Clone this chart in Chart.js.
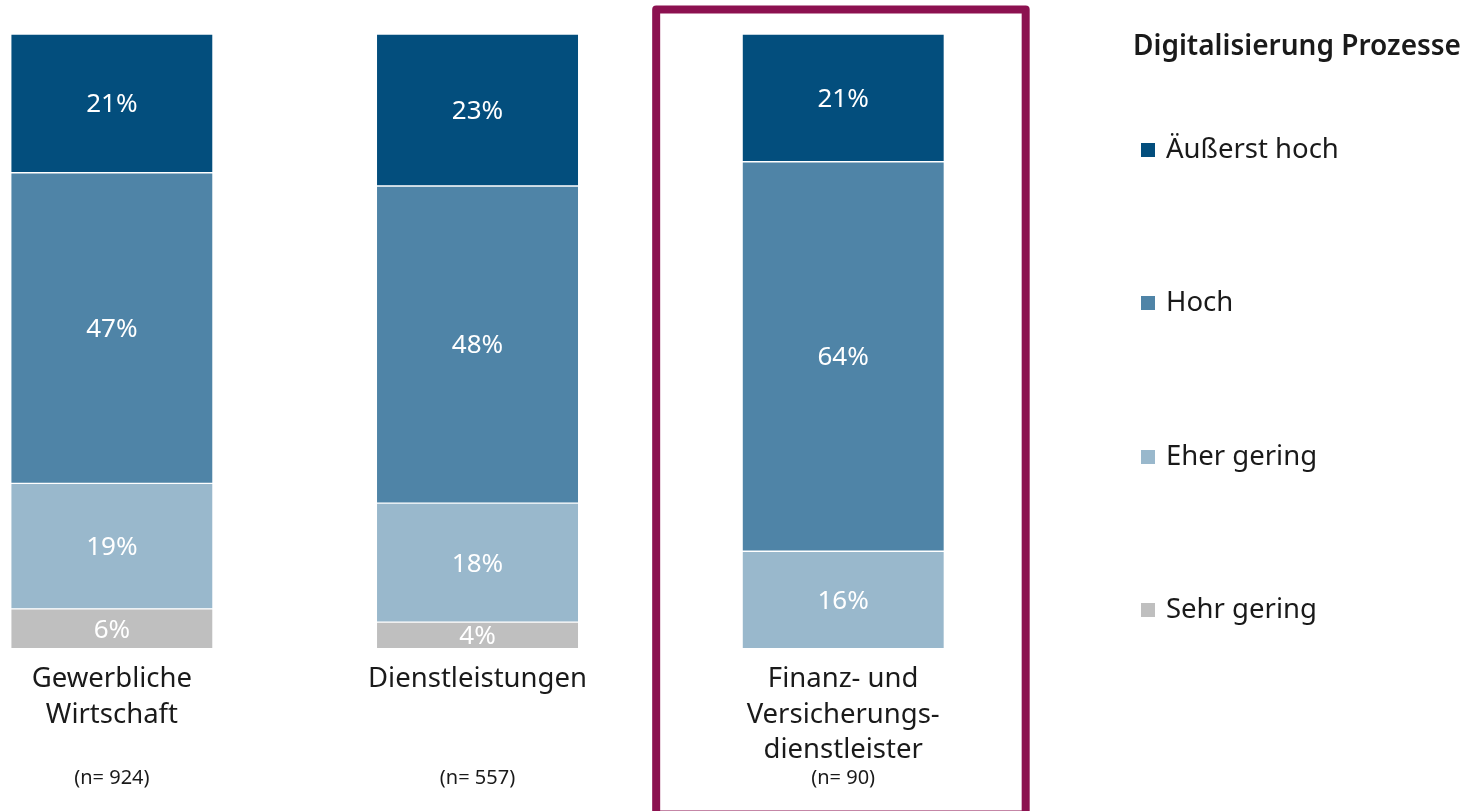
<!DOCTYPE html>
<html><head><meta charset="utf-8">
<script src="https://cdn.jsdelivr.net/npm/chart.js@4.4.1/dist/chart.umd.min.js"></script>
<style>html,body{margin:0;padding:0;background:#fff;overflow:hidden}#wrap{position:relative;width:1469px;height:811px}</style>
</head><body><div id="wrap"><canvas id="c" width="1469" height="811"></canvas></div>
<script>
// ---- data ----
const categories = [["Gewerbliche","Wirtschaft"],["Dienstleistungen"],["Finanz- und","Versicherungs-","dienstleister"]];
const sampleSizes = ["(n= 924)","(n= 557)","(n= 90)"];
const seriesNames = ["Äußerst hoch","Hoch","Eher gering","Sehr gering"];
const aeusserstHoch = [21, 23, 21];
const hoch = [47, 48, 64];
const eherGering = [19, 18, 16];
const sehrGering = [6, 4, null];
const highlightIndex = 2;
const legendTitle = "Digitalisierung Prozesse";

// ---- styles ----
const seriesColors = ["#034E7D", "#4F84A7", "#99B8CC", "#BFBFBF"];
const FONT = "'Noto Sans', sans-serif";
const TEXT = "#1a1a1a";
Chart.defaults.font.family = FONT;

const allSeries = [aeusserstHoch, hoch, eherGering, sehrGering];
const totals = categories.map((_, i) => allSeries.reduce((s, a) => s + (a[i] || 0), 0));

function makeDataset(k) {
  const values = allSeries[k];
  return {
    label: seriesNames[k],
    values: values,
    data: values.map((v, i) => v == null ? null : { x: i, y: v / totals[i] * 100 }).filter(p => p),
    backgroundColor: seriesColors[k],
    borderColor: "#ffffff",
    borderWidth: { top: 1, bottom: 1, left: 0, right: 0 },
    borderSkipped: false,
    barThickness: 201
  };
}
// bottom of stack first
const datasets = [3, 2, 1, 0].map(makeDataset);

const overlay = {
  id: "overlay",
  afterDatasetsDraw(chart) {
    const ctx = chart.ctx;
    ctx.save();
    ctx.font = "26px " + FONT;
    ctx.fillStyle = "#ffffff";
    ctx.textAlign = "center";
    ctx.textBaseline = "middle";
    chart.data.datasets.forEach((d, di) => {
      const meta = chart.getDatasetMeta(di);
      meta.data.forEach((el, j) => {
        const ci = d.data[j].x;
        const v = d.values[ci];
        ctx.fillText(v + "%", el.x, (el.y + el.base) / 2 + 1.5);
      });
    });
    ctx.restore();
  },
  afterDraw(chart) {
    const ctx = chart.ctx;
    const xs = chart.scales.x;
    ctx.save();
    // sample sizes
    ctx.font = "20px " + FONT;
    ctx.fillStyle = TEXT;
    ctx.textAlign = "center";
    ctx.textBaseline = "middle";
    sampleSizes.forEach((s, i) => ctx.fillText(s, xs.getPixelForValue(i), 778));
    // highlight frame
    const cx = xs.getPixelForValue(highlightIndex);
    ctx.strokeStyle = "#8C1150";
    ctx.lineWidth = 8;
    ctx.lineJoin = "round";
    ctx.strokeRect(cx - 187, 9.5, 369.5, 805);
    // legend
    ctx.textAlign = "left";
    ctx.font = "600 28px " + FONT;
    ctx.fillStyle = TEXT;
    ctx.fillText(legendTitle, 1133, 47);
    ctx.font = "27.5px " + FONT;
    const ys = [150, 303, 457, 610];
    seriesNames.forEach((name, k) => {
      ctx.fillStyle = seriesColors[k];
      ctx.fillRect(1141, ys[k] - 7, 14, 14);
      ctx.fillStyle = TEXT;
      ctx.fillText(name, 1166, ys[k]);
    });
    ctx.restore();
  }
};

new Chart(document.getElementById("c"), {
  type: "bar",
  data: { datasets: datasets },
  options: {
    responsive: false,
    animation: false,
    layout: { padding: { left: 0, right: 443, top: 34, bottom: 30 } },
    plugins: { legend: { display: false }, tooltip: { enabled: false } },
    scales: {
      x: {
        type: "linear", stacked: true, offset: false, bounds: "data",
        min: -0.306, max: 2.5,
        grid: { display: false, drawTicks: false, offset: false },
        border: { display: false },
        afterBuildTicks: s => { s.ticks = categories.map((_, i) => ({ value: i })); },
        ticks: {
          padding: 13, color: TEXT, maxRotation: 0, autoSkip: false, includeBounds: false,
          font: { size: 27.5, lineHeight: 1.29 },
          callback: v => categories[v]
        }
      },
      y: { stacked: true, display: false, min: 0, max: 100 }
    }
  },
  plugins: [overlay]
});
</script>
</body></html>
